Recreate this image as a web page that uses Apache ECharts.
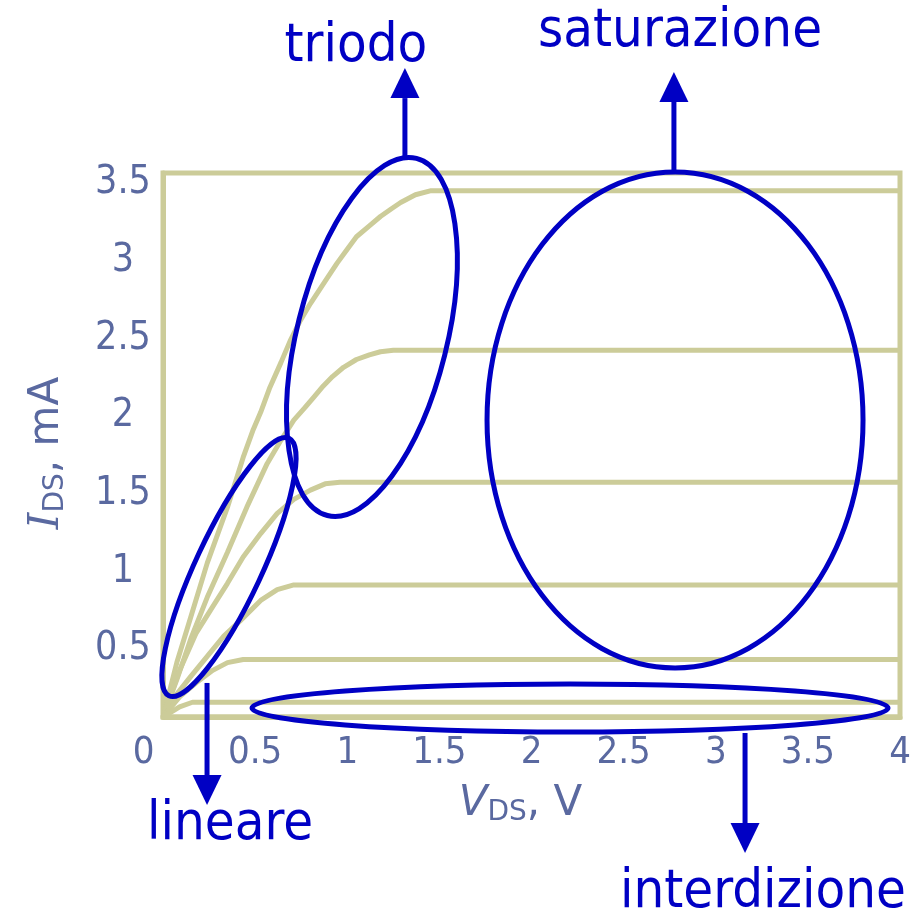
<!DOCTYPE html>
<html>
<head>
<meta charset="utf-8">
<title>MOSFET I-V</title>
<script src="https://cdn.jsdelivr.net/npm/echarts@6/dist/echarts.min.js"></script>
<style>
  html, body { margin: 0; padding: 0; background: #fff; }
  #main { width: 924px; height: 914px; }
</style>
</head>
<body>
<div id="main"></div>
<script>
  // Output characteristics I_DS(V_DS), one curve per gate voltage [V, mA]
  var curve1 = [[0,0],[0.075,0.35],[0.15,0.64],[0.24,0.99],[0.35,1.35],[0.435,1.67],[0.49,1.85],[0.53,1.96],[0.58,2.12],[0.64,2.28],[0.69,2.42],[0.745,2.55],[0.8,2.66],[0.85,2.75],[0.9,2.84],[0.945,2.92],[1.0,3.01],[1.05,3.09],[1.12,3.16],[1.18,3.22],[1.24,3.27],[1.29,3.31],[1.37,3.36],[1.45,3.385],[4,3.385]];
  var curve2 = [[0,0],[0.075,0.24],[0.15,0.5],[0.24,0.77],[0.35,1.06],[0.455,1.35],[0.565,1.63],[0.64,1.78],[0.71,1.91],[0.77,1.99],[0.82,2.06],[0.87,2.13],[0.92,2.19],[0.98,2.25],[1.05,2.30],[1.12,2.33],[1.18,2.35],[1.25,2.36],[4,2.36]];
  var curve3 = [[0,0],[0.09,0.30],[0.18,0.54],[0.27,0.71],[0.35,0.86],[0.435,1.03],[0.53,1.18],[0.62,1.31],[0.71,1.40],[0.8,1.46],[0.88,1.50],[0.96,1.51],[4,1.51]];
  var curve4 = [[0,0],[0.05,0.11],[0.15,0.26],[0.24,0.39],[0.33,0.52],[0.42,0.62],[0.53,0.75],[0.62,0.82],[0.71,0.85],[4,0.85]];
  var curve5 = [[0,0],[0.09,0.13],[0.18,0.22],[0.27,0.30],[0.35,0.35],[0.435,0.37],[4,0.37]];
  var curve6 = [[0,0],[0.09,0.065],[0.16,0.095],[4,0.095]];
  var curve7 = [[0,0],[4,0]];
  var curves = [curve1, curve2, curve3, curve4, curve5, curve6, curve7];

  // Axis ranges / ticks
  var xTicks = [0, 0.5, 1, 1.5, 2, 2.5, 3, 3.5, 4];
  var yTicks = [0, 0.5, 1, 1.5, 2, 2.5, 3, 3.5];

  // Region annotations, anchored in data space (radii in px, tilt in deg clockwise)
  var regionEllipses = [
    { name: 'triodo',       at: [1.134, 2.445], rx: 75,  ry: 184, tilt: 14 },
    { name: 'lineare',      at: [0.358, 0.965], rx: 33,  ry: 142, tilt: 25 },
    { name: 'saturazione',  at: [2.779, 1.911], rx: 188, ry: 248, tilt: 0 },
    { name: 'interdizione', at: [2.209, 0.058], rx: 318, ry: 24,  tilt: 0 }
  ];
  var regionArrows = [
    { x: 1.313, from: 3.597, to: 4.175 },
    { x: 2.773, from: 3.506, to: 4.150 },
    { x: 0.239, from: 0.219, to: -0.566 },
    { x: 3.159, from: -0.103, to: -0.875 }
  ];
  var regionLabels = [
    { text: 'triodo',       at: [1.047, 4.312] },
    { text: 'saturazione',  at: [2.806, 4.405] },
    { text: 'lineare',      at: [0.364, -0.692] },
    { text: 'interdizione', at: [3.256, -1.132] }
  ];

  var KHAKI = '#cccc99';
  var BLUE = '#0000c4';
  var LABEL = '#5a69a0';
  var FONT = '"DejaVu Sans Condensed", "DejaVu Sans", sans-serif';
  var NAMEFONT = '"DejaVu Sans", sans-serif';

  var chart = echarts.init(document.getElementById('main'));

  var series = curves.map(function(c, i) {
    return {
      type: 'line',
      name: 'c' + i,
      data: c,
      showSymbol: false,
      symbol: 'none',
      silent: true,
      lineStyle: { color: KHAKI, width: 5 },
      z: 2 + i
    };
  });

  var option = {
    animation: false,
    backgroundColor: '#fff',
    grid: {
      left: 163, right: 24, top: 173, bottom: 197,
      show: true, borderColor: KHAKI, borderWidth: 5,
      containLabel: false, outerBoundsMode: 'none'
    },
    xAxis: {
      type: 'value', min: 0, max: 4, interval: 0.5,
      axisLine: { show: true, lineStyle: { color: KHAKI, width: 5 } },
      axisTick: { show: false },
      splitLine: { show: false },
      axisLabel: {
        color: LABEL, fontFamily: FONT, fontSize: 38, margin: 17,
        showMinLabel: true, showMaxLabel: true, hideOverlap: false,
        formatter: function(v) { return v === 0 ? '{z|0}' : String(v); },
        rich: { z: { color: LABEL, fontFamily: FONT, fontSize: 38, padding: [0, 39, 0, 0] } }
      },
      name: '{i|V}{s|DS}{n|, V}',
      nameLocation: 'middle', nameGap: 64, nameMoveOverlap: false,
      nameTextStyle: {
        padding: [0, 22, 0, 0],
        rich: {
          i: { color: LABEL, fontFamily: NAMEFONT, fontStyle: 'italic', fontSize: 42, lineHeight: 46 },
          s: { color: LABEL, fontFamily: NAMEFONT, fontSize: 28, lineHeight: 14, verticalAlign: 'bottom' },
          n: { color: LABEL, fontFamily: NAMEFONT, fontSize: 42, lineHeight: 46 }
        }
      }
    },
    yAxis: {
      type: 'value', min: 0, max: 3.5, interval: 0.5,
      axisLine: { show: true, lineStyle: { color: KHAKI, width: 5 } },
      axisTick: { show: false },
      splitLine: { show: false },
      axisLabel: {
        color: LABEL, fontFamily: FONT, fontSize: 39, margin: 40,
        align: 'center', verticalAlign: 'top', lineHeight: 20,
        showMinLabel: true, showMaxLabel: true, hideOverlap: false,
        formatter: function(v) { return v === 0 ? '' : String(v); }
      },
      name: '{i|I}{s|DS}{n|, mA}',
      nameLocation: 'middle', nameGap: 93, nameMoveOverlap: false,
      nameTextStyle: {
        padding: [0, 16, 0, 0],
        rich: {
          i: { color: LABEL, fontFamily: '"DejaVu Serif", serif', fontStyle: 'italic', fontSize: 42, lineHeight: 46 },
          s: { color: LABEL, fontFamily: NAMEFONT, fontSize: 28, lineHeight: 14, verticalAlign: 'bottom' },
          n: { color: LABEL, fontFamily: NAMEFONT, fontSize: 42, lineHeight: 46 }
        }
      }
    },
    series: series
  };

  chart.setOption(option);

  // Build the overlay (ellipses, arrows, labels) from data-space anchors
  function toPx(p) { return chart.convertToPixel({ gridIndex: 0 }, p); }

  var elements = [];
  regionEllipses.forEach(function(e) {
    var c = toPx(e.at);
    elements.push({
      type: 'ellipse', x: c[0], y: c[1], rotation: -e.tilt * Math.PI / 180,
      shape: { cx: 0, cy: 0, rx: e.rx, ry: e.ry },
      style: { fill: 'none', stroke: BLUE, lineWidth: 5 },
      z: 100, silent: true
    });
  });
  regionArrows.forEach(function(a) {
    var p0 = toPx([a.x, a.from]);
    var tip = toPx([a.x, a.to]);
    var dir = tip[1] < p0[1] ? -1 : 1;
    var headLen = 30, headW = 14.5;
    var base = tip[1] - dir * headLen;
    elements.push({
      type: 'line',
      shape: { x1: p0[0], y1: p0[1], x2: p0[0], y2: base },
      style: { stroke: BLUE, lineWidth: 5 },
      z: 100, silent: true
    });
    elements.push({
      type: 'polygon',
      shape: { points: [[tip[0], tip[1]], [tip[0] - headW, base], [tip[0] + headW, base]] },
      style: { fill: BLUE },
      z: 100, silent: true
    });
  });
  regionLabels.forEach(function(l) {
    var c = toPx(l.at);
    elements.push({
      type: 'text', x: c[0], y: c[1],
      style: {
        text: l.text, fill: BLUE, font: '54px ' + FONT,
        align: 'center', verticalAlign: 'middle',
        textAlign: 'center', textVerticalAlign: 'middle'
      },
      z: 100, silent: true
    });
  });

  chart.setOption({ graphic: { elements: elements } });
</script>
</body>
</html>
